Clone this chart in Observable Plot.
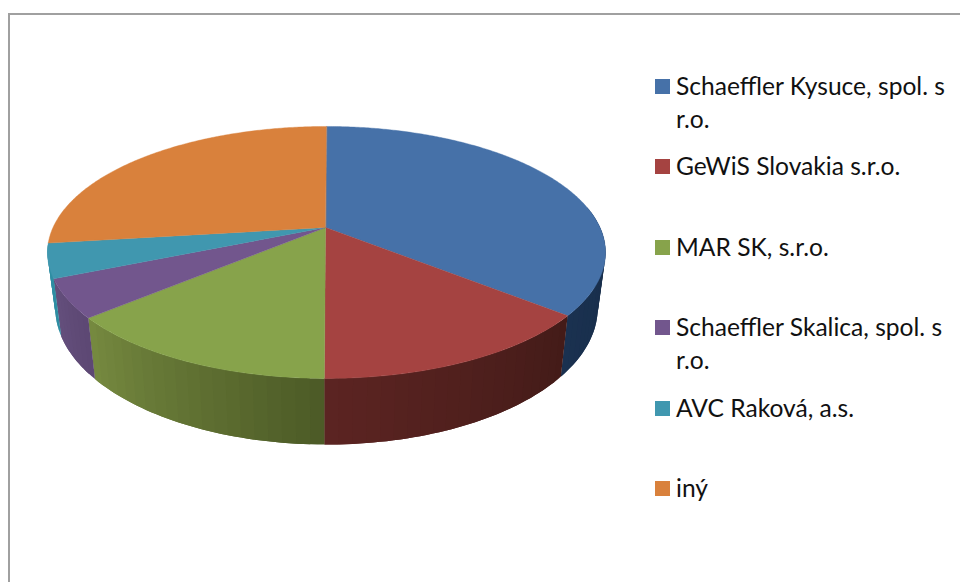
<!DOCTYPE html>
<html lang="sk">
<head>
<meta charset="utf-8">
<script src="https://cdn.jsdelivr.net/npm/d3@7"></script>
<script src="https://cdn.jsdelivr.net/npm/@observablehq/plot@0.6"></script>
<style>
html,body{margin:0;padding:0;background:#fff;overflow:hidden}
#stage{position:relative;width:960px;height:582px;overflow:hidden}
#frame{position:absolute;left:8px;top:13px;width:960px;height:600px;border-top:2px solid #a0a0a0;border-left:2px solid #a0a0a0;box-sizing:border-box}
.sw{position:absolute;left:655px;width:15px;height:15px}
.lb{position:absolute;left:676px;width:280px;font:24.6px/32.5px Lato,Carlito,sans-serif;color:#111;white-space:pre}
svg{position:absolute;left:0;top:0}
</style>
</head>
<body>
<div id="stage"><div id="frame"></div></div>
<script>
// Data (share of the whole, %)
const categories = ["Schaeffler Kysuce, spol. s\nr.o.", "GeWiS Slovakia s.r.o.", "MAR SK, s.r.o.", "Schaeffler Skalica, spol. s\nr.o.", "AVC Raková, a.s.", "iný"];
const shares = [36.0, 14.1, 13.6, 4.9, 4.4, 27.0];

// Styles
const topColors = ["#4671a8", "#a54341", "#87a34b", "#72568d", "#4097af", "#d9813c"];
const sideStart = ["#172c47", "#431b18", "#4c5a26", "#5c4873", "#2f8ea3", null];
const sideEnd   = ["#1a3150", "#5c2422", "#768a40", "#654f7d", "#2f8ea3", null];
const legendY = [79, 159, 240, 320, 401, 481];

// Perspective of the disc: unit circle to screen
const cx = 326, apexX = 325, apexY = 227, persp = -0.198, ky = 76.1, kx = 273.5;
function rim(deg) {
  const t = deg * Math.PI / 180, u = Math.sin(t), v = -Math.cos(t), w = 1 + persp * v;
  return [cx + kx * u / w, (ky * v + apexY) / w];
}
const lower = ([x, y]) => [cx + 0.972 * (x - cx), 1.085 * y + 34];

const total = d3.sum(shares);
let acc = 0;
const slices = shares.map((s, i) => {
  const a0 = acc / total * 360; acc += s;
  return {i, a0, a1: acc / total * 360};
});

// Walls, as thin overlapping facets so they can darken along the rim
const wallPts = [];
let id = 0;
for (const s of slices) {
  if (!sideStart[s.i]) continue;
  const from = Math.max(s.a0, 80), to = s.a1;
  const n = Math.ceil((to - from) / 2.5);
  const ramp = d3.interpolateRgb(sideStart[s.i], sideEnd[s.i]);
  for (let k = 0; k < n; k++) {
    const a = from + (to - from) * k / n, b = from + (to - from) * Math.min(k + 2, n) / n;
    const color = ramp((k + 0.5) / n);
    const path = [];
    for (let q = 0; q <= 4; q++) path.push(rim(a + (b - a) * q / 4));
    for (let q = 4; q >= 0; q--) path.push(lower(rim(a + (b - a) * q / 4)));
    for (const p of path) wallPts.push({x: p[0], y: p[1], id, color});
    id++;
  }
}

// Top faces
const topPts = [];
for (const s of slices) {
  topPts.push({x: apexX, y: apexY, id: s.i, color: topColors[s.i]});
  const n = Math.ceil((s.a1 - s.a0) / 0.5);
  for (let k = 0; k <= n; k++) {
    const p = rim(s.a0 + (s.a1 - s.a0) * k / n);
    topPts.push({x: p[0], y: p[1], id: s.i, color: topColors[s.i]});
  }
}

const chart = Plot.plot({
  width: 960, height: 582, margin: 0,
  x: {domain: [0, 960], range: [0, 960], axis: null},
  y: {domain: [0, 582], range: [0, 582], axis: null},
  color: {type: "identity"},
  marks: [
    Plot.line(wallPts, {x: "x", y: "y", z: "id", fill: "color", stroke: "none", curve: "linear-closed"}),
    Plot.line(topPts, {x: "x", y: "y", z: "id", fill: "color", stroke: "color", strokeWidth: 0.4, curve: "linear-closed"})
  ]
});
chart.style.background = "transparent";
const stage = document.getElementById("stage");
stage.appendChild(chart);

categories.forEach((c, i) => {
  const sw = document.createElement("div");
  sw.className = "sw"; sw.style.top = legendY[i] + "px"; sw.style.background = topColors[i];
  const lb = document.createElement("div");
  lb.className = "lb"; lb.style.top = (legendY[i] - 9) + "px"; lb.textContent = c;
  stage.append(sw, lb);
});
</script>
</body>
</html>
